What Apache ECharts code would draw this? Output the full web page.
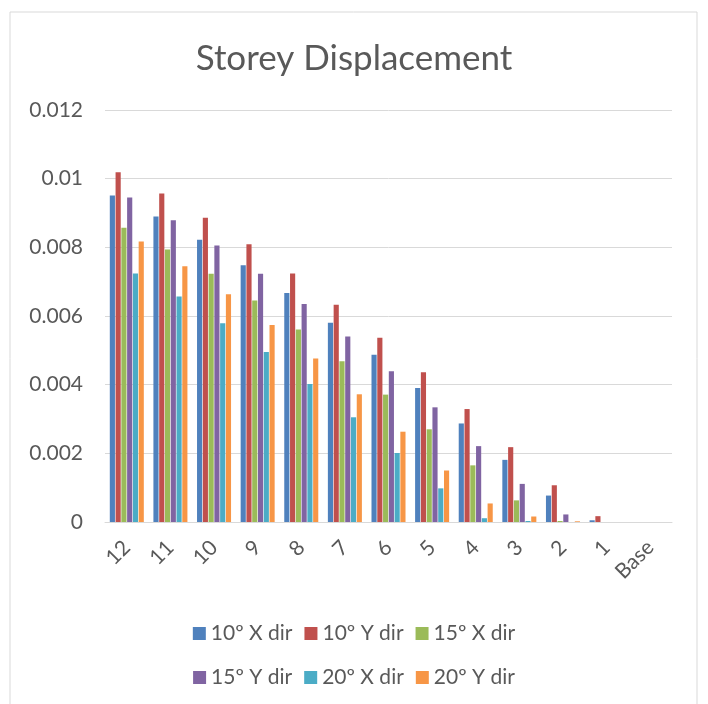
<!DOCTYPE html>
<html>
<head>
<meta charset="utf-8">
<script src="https://cdn.jsdelivr.net/npm/echarts@6/dist/echarts.min.js"></script>
<style>
  html, body { margin: 0; padding: 0; background: #fff; }
  #main { width: 708px; height: 704px; }
</style>
</head>
<body>
<div id="main"></div>
<script>
// storeys, top to base
var storeys = ['12', '11', '10', '9', '8', '7', '6', '5', '4', '3', '2', '1', 'Base'];

var names = ['10º X dir', '10º Y dir', '15º X dir', '15º Y dir', '20º X dir', '20º Y dir'];
var colors = ['#4F81BD', '#C0504D', '#9BBB59', '#8064A2', '#4BACC6', '#F79646'];

var x10 = [0.00951, 0.00890, 0.00822, 0.00748, 0.00667, 0.00580, 0.00487, 0.00390, 0.00287, 0.00181, 0.00077, 0.00005, 0];
var y10 = [0.01019, 0.00957, 0.00886, 0.00809, 0.00724, 0.00633, 0.00537, 0.00436, 0.00329, 0.00218, 0.00107, 0.00017, 0];
var x15 = [0.00857, 0.00794, 0.00723, 0.00645, 0.00561, 0.00468, 0.00371, 0.00270, 0.00165, 0.00063, 0.00003, 0, 0];
var y15 = [0.00945, 0.00879, 0.00805, 0.00723, 0.00635, 0.00540, 0.00439, 0.00334, 0.00221, 0.00111, 0.00022, 0, 0];
var x20 = [0.00724, 0.00657, 0.00579, 0.00495, 0.00402, 0.00305, 0.00201, 0.00098, 0.00011, 0.00003, 0, 0, 0];
var y20 = [0.00817, 0.00745, 0.00663, 0.00574, 0.00476, 0.00372, 0.00263, 0.00150, 0.00054, 0.00016, 0.00002, 0, 0];

var allData = [x10, y10, x15, y15, x20, y20];

var FONT = 'Lato';
var GREY = '#595959';

var chart = echarts.init(document.getElementById('main'));

var series = names.map(function (n, i) {
  return {
    name: n,
    type: 'bar',
    data: allData[i],
    itemStyle: { color: colors[i] },
    barGap: '12%',
    barCategoryGap: '22%'
  };
});

var legendCommon = {
  icon: 'rect',
  itemWidth: 13,
  itemHeight: 13,
  itemGap: 12,
  textStyle: { color: GREY, fontSize: 21, fontFamily: FONT }
};

var option = {
  animation: false,
  title: {
    text: 'Storey Displacement',
    left: 'center',
    top: 36,
    textStyle: { color: GREY, fontSize: 35, fontWeight: 'normal', fontFamily: FONT }
  },
  legend: [
    Object.assign({ data: names.slice(0, 3), left: 'center', top: 618 }, legendCommon),
    Object.assign({ data: names.slice(3, 6), left: 'center', top: 662 }, legendCommon)
  ],
  graphic: [{
    type: 'rect',
    shape: { x: 10, y: 12, width: 687, height: 720 },
    style: { fill: 'none', stroke: '#D9D9D9', lineWidth: 1 },
    silent: true
  }],
  grid: { left: 105, right: 36, top: 110, bottom: 182 },
  xAxis: {
    type: 'category',
    data: storeys,
    axisLine: { lineStyle: { color: '#D9D9D9', width: 1 } },
    axisTick: { show: false },
    axisLabel: {
      rotate: 45,
      color: GREY,
      fontSize: 21,
      fontFamily: FONT,
      interval: 0,
      margin: 22
    }
  },
  yAxis: {
    type: 'value',
    min: 0,
    max: 0.012,
    interval: 0.002,
    axisLine: { show: false },
    axisTick: { show: false },
    splitLine: { lineStyle: { color: '#D9D9D9', width: 1 } },
    axisLabel: {
      color: GREY,
      fontSize: 21,
      fontFamily: FONT,
      margin: 22,
      formatter: function (v) { return String(+v.toFixed(3)); }
    }
  },
  series: series
};

chart.setOption(option);
</script>
</body>
</html>
